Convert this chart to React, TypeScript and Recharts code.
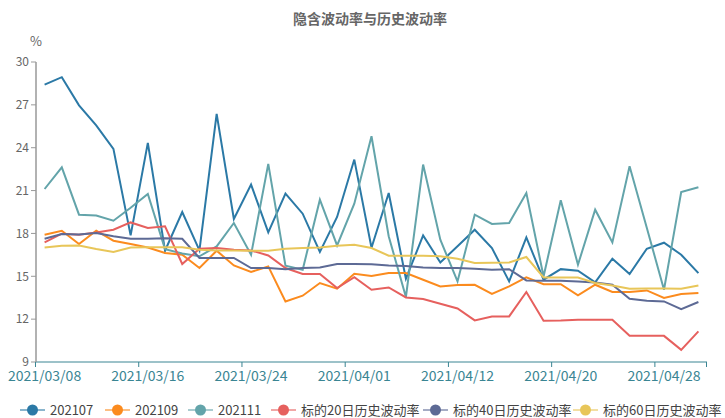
import { LineChart, Line, XAxis, YAxis } from "recharts";

const dates = [
    "2021/03/08", "2021/03/09", "2021/03/10", "2021/03/11", "2021/03/12",
    "2021/03/15", "2021/03/16", "2021/03/17", "2021/03/18", "2021/03/19",
    "2021/03/22", "2021/03/23", "2021/03/24", "2021/03/25", "2021/03/26",
    "2021/03/29", "2021/03/30", "2021/03/31", "2021/04/01", "2021/04/02",
    "2021/04/06", "2021/04/07", "2021/04/08", "2021/04/09", "2021/04/12",
    "2021/04/13", "2021/04/14", "2021/04/15", "2021/04/16", "2021/04/19",
    "2021/04/20", "2021/04/21", "2021/04/22", "2021/04/23", "2021/04/26",
    "2021/04/27", "2021/04/28", "2021/04/29", "2021/04/30",
];

const iv202107 = [
    28.42, 28.94, 26.97, 25.57, 23.92, 17.86, 24.34, 16.79, 19.5, 16.81,
    26.37, 19.01, 21.42, 18.07, 20.78, 19.38, 16.7, 19.15, 23.17, 17.0,
    20.83, 14.83, 17.86, 15.97, 17.1, 18.26, 16.98, 14.64, 17.72, 14.76,
    15.5, 15.39, 14.57, 16.23, 15.16, 16.93, 17.35, 16.51, 15.22,
];
const iv202109 = [
    17.91, 18.19, 17.26, 18.19, 17.49, 17.26, 17.02, 16.63, 16.51, 15.58,
    16.79, 15.76, 15.3, 15.69, 13.24, 13.64, 14.53, 14.13, 15.18, 15.02,
    15.23, 15.23, 14.76, 14.29, 14.39, 14.4, 13.76, 14.29, 14.92, 14.45,
    14.45, 13.66, 14.41, 13.9, 13.9, 14.01, 13.48, 13.76, 13.83,
];
const iv202111 = [
    21.11, 22.63, 19.31, 19.26, 18.89, 19.8, 20.76, 16.9, 16.6, 16.4,
    17.09, 18.73, 16.51, 22.87, 15.74, 15.46, 20.36, 17.16, 20.08, 24.8,
    17.8, 13.55, 22.82, 17.56, 14.64, 19.31, 18.66, 18.73, 20.83, 14.99,
    20.32, 15.81, 19.66, 17.37, 22.7, 18.4, 14.06, 20.9, 21.23,
];
const hv20 = [
    17.37, 17.98, 17.91, 18.07, 18.26, 18.77, 18.38, 18.5, 15.86, 16.93,
    16.98, 16.86, 16.81, 16.46, 15.58, 15.16, 15.16, 14.18, 14.94, 14.06,
    14.22, 13.52, 13.41, 13.08, 12.75, 11.91, 12.19, 12.19, 13.9, 11.88,
    11.9, 11.95, 11.95, 11.95, 10.83, 10.83, 10.83, 9.85, 11.14,
];
const hv40 = [
    17.63, 17.96, 17.93, 18.03, 17.8, 17.63, 17.63, 17.66, 17.63, 16.28,
    16.28, 16.28, 15.58, 15.58, 15.5, 15.58, 15.62, 15.86, 15.86, 15.84,
    15.76, 15.72, 15.62, 15.58, 15.58, 15.53, 15.46, 15.5, 14.71, 14.69,
    14.69, 14.64, 14.57, 14.41, 13.43, 13.29, 13.24, 12.7, 13.2,
];
const hv60 = [
    17.02, 17.14, 17.16, 16.91, 16.7, 17.02, 17.04, 17.04, 17.04, 16.86,
    16.81, 16.81, 16.79, 16.79, 16.93, 16.98, 17.02, 17.14, 17.21, 16.98,
    16.44, 16.44, 16.44, 16.4, 16.23, 15.93, 15.95, 15.97, 16.35, 14.92,
    14.92, 14.92, 14.53, 14.36, 14.13, 14.15, 14.15, 14.13, 14.36,
];

const yTicks = [9, 12, 15, 18, 21, 24, 27, 30];

const series = [
    { key: "202107", name: "202107", color: "#2b79a6", values: iv202107 },
    { key: "202109", name: "202109", color: "#fb8b1e", values: iv202109 },
    { key: "202111", name: "202111", color: "#63a4aa", values: iv202111 },
    { key: "hv20", name: "标的20日历史波动率", color: "#e6605e", values: hv20 },
    { key: "hv40", name: "标的40日历史波动率", color: "#5d6a95", values: hv40 },
    { key: "hv60", name: "标的60日历史波动率", color: "#e8c659", values: hv60 },
];

const data = dates.map((d, i) => {
    const row: Record<string, string | number> = { date: d };
    series.forEach((s) => {
        row[s.key] = s.values[i];
    });
    return row;
});

const FONT = "'Noto Sans CJK SC', 'Noto Sans', sans-serif";
const AXIS_TEAL = "#3a8593";
const PAD = 8.6;
const STEP = (671 - 2 * PAD) / (dates.length - 1);

// labels sit on the points, tick marks sit on the band edges (like the original)
function DateTick(props: any) {
    const { x, y, payload } = props;
    const edge = x - STEP / 2 - 0.5;
    const last = payload.value === "2021/04/28";
    return (
        <g>
            <line x1={edge} y1={y - 8} x2={edge} y2={y - 3} stroke={AXIS_TEAL} />
            {last && (
                <line x1={706.5} y1={y - 8} x2={706.5} y2={y - 3} stroke={AXIS_TEAL} />
            )}
            <text
                x={x}
                y={y + 11}
                textAnchor="middle"
                fill={AXIS_TEAL}
                fontSize={14}
                fontFamily={FONT}
            >
                {payload.value}
            </text>
        </g>
    );
}

const legendPos = [20, 105, 188, 271, 423, 573];

export default function App() {
    return (
        <div style={{ position: "absolute", left: 0, top: 0, width: 725, height: 418, background: "#fff", fontFamily: FONT }}>
            <div
                style={{
                    position: "absolute",
                    top: 8,
                    left: 0,
                    width: 740,
                    textAlign: "center",
                    fontSize: 14,
                    lineHeight: "20px",
                    fontWeight: "bold",
                    color: "#666",
                }}
            >
                隐含波动率与历史波动率
            </div>
            <div style={{ position: "absolute", top: 31, left: 30, fontSize: 13, color: "#666" }}>%</div>
            <LineChart
                width={725}
                height={418}
                data={data}
                margin={{ top: 62, right: 18, left: 0, bottom: 26 }}
            >
                <XAxis
                    dataKey="date"
                    interval={5}
                    padding={{ left: PAD, right: PAD }}
                    height={30}
                    axisLine={{ stroke: AXIS_TEAL }}
                    tickLine={false}
                    tick={<DateTick />}
                />
                <YAxis
                    domain={[9, 30]}
                    ticks={yTicks}
                    width={36}
                    axisLine={{ stroke: "#999", strokeWidth: 1.5 }}
                    tickLine={{ stroke: "#999" }}
                    tickSize={5}
                    tick={{ fill: "#666", fontSize: 12, fontFamily: FONT }}
                />
                {series.map((s) => (
                    <Line
                        key={s.key}
                        type="linear"
                        dataKey={s.key}
                        name={s.name}
                        stroke={s.color}
                        strokeWidth={2}
                        dot={false}
                        isAnimationActive={false}
                    />
                ))}
            </LineChart>
            {series.map((s, i) => (
                <div
                    key={s.key}
                    style={{
                        position: "absolute",
                        top: 402,
                        left: legendPos[i],
                        display: "flex",
                        alignItems: "center",
                        height: 15,
                        lineHeight: "15px",
                        whiteSpace: "nowrap",
                        fontSize: 13,
                        color: "#444",
                    }}
                >
                    <svg width={25} height={14} style={{ marginRight: 5 }}>
                        <line x1={0} y1={7} x2={25} y2={7} stroke={s.color} strokeWidth={2} opacity={0.55} />
                        <circle cx={12.5} cy={7} r={5.5} fill={s.color} />
                    </svg>
                    {s.name}
                </div>
            ))}
        </div>
    );
}
